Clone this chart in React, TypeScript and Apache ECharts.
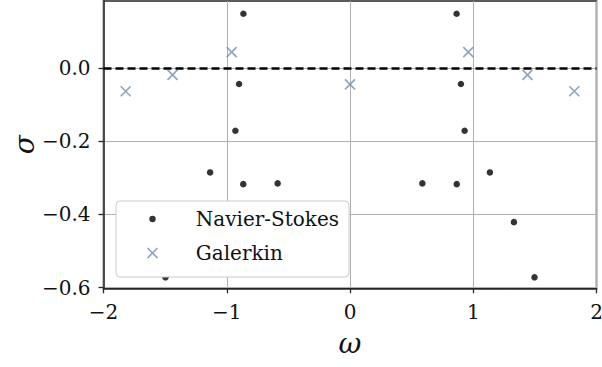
import React, { useEffect, useRef } from 'react';
import * as echarts from 'echarts';

// Eigenvalue spectra: growth rate sigma against frequency omega
const xTicks = [-2, -1, 0, 1, 2];
const yTicks = [-0.6, -0.4, -0.2, 0.0];

const navierStokesOmega = [-1.497, -1.33, -1.135, -0.93, -0.9, -0.865, -0.866, -0.587, 0.587, 0.866, 0.865, 0.9, 0.93, 1.135, 1.33, 1.497];
const navierStokesSigma = [-0.572, -0.421, -0.285, -0.171, -0.043, 0.149, -0.317, -0.315, -0.315, -0.317, 0.149, -0.043, -0.171, -0.285, -0.421, -0.572];

const galerkinOmega = [-1.82, -1.44, -0.96, 0, 0.96, 1.44, 1.82];
const galerkinSigma = [-0.063, -0.018, 0.044, -0.044, 0.044, -0.018, -0.063];

const SERIF = 'DejaVu Serif';
const INK = '#111111';
const SPINE = '#262626';
const CROSS = '#6f8faf';

const fmt = (v: number, digits: number) => {
  const s = Math.abs(v).toFixed(digits);
  return v < 0 ? '\u2212' + s : s;
};

export default function App() {
  const ref = useRef<HTMLDivElement>(null);

  useEffect(() => {
    if (!ref.current) return;
    const chart = echarts.init(ref.current, undefined, { renderer: 'svg' });

    const ns = navierStokesOmega.map((w, i) => [w, navierStokesSigma[i]]);
    const gk = galerkinOmega.map((w, i) => [w, galerkinSigma[i]]);

    chart.setOption({
      animation: false,
      textStyle: { fontFamily: SERIF },
      grid: {
        left: 103.5,
        right: 5.5,
        top: 1,
        bottom: 78.7,
        outerBoundsMode: 'none',
        containLabel: false,
        show: true,
        borderColor: SPINE,
        borderWidth: 1.5,
        backgroundColor: 'transparent',
      },
      xAxis: {
        type: 'value',
        min: -2,
        max: 2,
        interval: 1,
        name: '\u03c9',
        nameLocation: 'middle',
        nameGap: 41,
        nameMoveOverlap: false,
        nameTextStyle: { fontSize: 28, fontStyle: 'italic', fontFamily: SERIF, color: INK },
        axisLine: { show: true, onZero: false, lineStyle: { color: SPINE, width: 1.5 } },
        axisTick: { show: true, inside: false, length: 5, lineStyle: { color: SPINE, width: 1.3 } },
        axisLabel: {
          margin: 14,
          fontSize: 20,
          fontFamily: SERIF,
          color: INK,
          customValues: xTicks,
          formatter: (v: number) => fmt(v, 0),
        },
        splitLine: { show: true, lineStyle: { color: '#b0b0b0', width: 1 } },
      },
      yAxis: {
        type: 'value',
        min: -0.602,
        max: 0.184,
        name: '\u03c3',
        nameLocation: 'middle',
        nameGap: 65,
        nameMoveOverlap: false,
        nameTextStyle: { fontSize: 28, fontStyle: 'italic', fontFamily: SERIF, color: INK },
        axisLine: { show: true, onZero: false, lineStyle: { color: SPINE, width: 1.5 } },
        axisTick: { show: true, inside: false, length: 5, customValues: yTicks, lineStyle: { color: SPINE, width: 1.3 } },
        axisLabel: {
          margin: 13,
          fontSize: 20,
          fontFamily: SERIF,
          color: INK,
          customValues: yTicks,
          formatter: (v: number) => fmt(v, 1),
        },
        splitLine: { show: true, lineStyle: { color: '#b0b0b0', width: 1 } },
      },
      legend: {
        orient: 'vertical',
        left: 126,
        top: 207,
        padding: 0,
        itemGap: 10,
        itemWidth: 64,
        itemHeight: 14,
        selectedMode: false,
        textStyle: { fontSize: 20, fontFamily: SERIF, color: INK, lineHeight: 24 },
        data: [
          {
            name: 'Navier-Stokes',
            icon: 'path://M0,0M64,14M22.5,7a3.2,3.2 0 1,0 6.4,0a3.2,3.2 0 1,0 -6.4,0Z',
            itemStyle: { color: '#000000', borderWidth: 0 },
          },
          {
            name: 'Galerkin',
            icon: 'path://M0,0M64,14M20.7,2L30.7,12M30.7,2L20.7,12',
            itemStyle: { color: 'rgba(0,0,0,0)', borderColor: CROSS, borderWidth: 1.6 },
          },
        ],
      },
      graphic: [
        {
          type: 'rect',
          z: 3,
          shape: { x: 116, y: 201, width: 233, height: 76, r: 4 },
          style: { fill: '#ffffff', stroke: '#cccccc', lineWidth: 1 },
        },
      ],
      series: [
        {
          name: 'Navier-Stokes',
          type: 'scatter',
          data: ns,
          symbol: 'circle',
          symbolSize: 6.5,
          itemStyle: { color: '#000000' },
        },
        {
          name: 'Galerkin',
          type: 'scatter',
          data: gk,
          symbol: 'path://M0,0L10,10M10,0L0,10',
          symbolSize: 10,
          itemStyle: { color: 'rgba(0,0,0,0)', borderColor: CROSS, borderWidth: 1.6 },
        },
        {
          name: 'zero',
          type: 'scatter',
          data: [],
          markLine: {
            silent: true,
            symbol: ['none', 'none'],
            label: { show: false },
            lineStyle: { color: '#000000', width: 2.5, type: [8, 4] },
            data: [{ yAxis: 0 }],
          },
        },
      ],
    });

    return () => chart.dispose();
  }, []);

  return (
    <div
      ref={ref}
      style={{ position: 'absolute', left: 0, top: 0, width: 602, height: 367, background: '#ffffff' }}
    />
  );
}
